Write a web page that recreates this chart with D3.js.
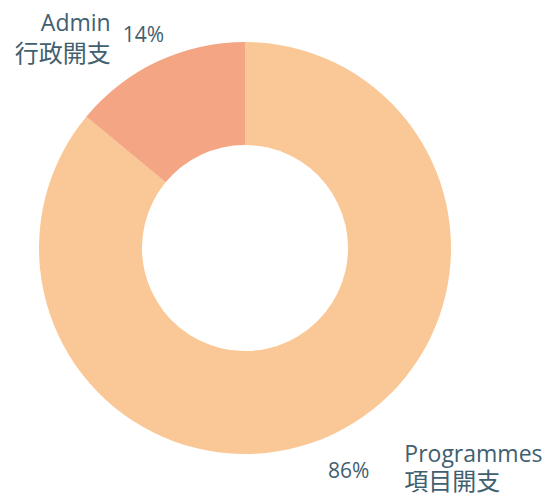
<!DOCTYPE html>
<html>
<head>
<meta charset="utf-8">
<script src="https://cdn.jsdelivr.net/npm/d3@7"></script>
<style>
  html, body { margin: 0; padding: 0; background: #fff; }
  svg { display: block; }
</style>
</head>
<body>
<div id="chart"></div>
<script>
// data
const categories = ["Programmes", "Admin"];
const categoriesZh = ["項目開支", "行政開支"];
const values = [86, 14];
const colours = ["#FAC896", "#F4A684"];

const width = 546, height = 497;
const cx = 245, cy = 248;
const outerR = 206, innerR = 103;
const textColour = "#41606f";

const svg = d3.select("#chart")
  .append("svg")
  .attr("width", width)
  .attr("height", height);

const g = svg.append("g").attr("transform", `translate(${cx},${cy})`);

// pie layout, keep data order, first slice starts at 12 o'clock
const pie = d3.pie().sort(null).value(d => d.value);
const arc = d3.arc().innerRadius(innerR).outerRadius(outerR);

const rows = categories.map((c, i) => ({
  name: c, zh: categoriesZh[i], value: values[i], colour: colours[i]
}));
const arcs = pie(rows);

g.selectAll("path.slice")
  .data(arcs)
  .join("path")
  .attr("class", "slice")
  .attr("d", arc)
  .attr("fill", d => d.data.colour);

// labels: anchored from the slice's mid angle, name on the outside, % on the inside
const labelArc = d3.arc().innerRadius(245).outerRadius(245);
const total = d3.sum(values);

const labels = svg.append("g").attr("class", "labels");

arcs.forEach(d => {
  const [lx, ly] = labelArc.centroid(d);
  const x = cx + lx, y = cy + ly;
  const right = lx > 0; // right half of the donut
  const lg = labels.append("g");

  // TODO: offsets tuned by eye against the reference
  const nameX = right ? x + 55 : x - 30;
  const nameY = right ? y - 8 : y + 5;
  const zhY = right ? nameY + 28 : nameY + 31;
  const pctX = right ? x + 20 : x - 18;
  const pctY = right ? y + 8 : y + 16;
  const anchor = right ? "start" : "end";

  lg.append("text")
    .attr("x", nameX)
    .attr("y", nameY)
    .attr("text-anchor", anchor)
    .style("fill", textColour)
    .style("font-family", "'Open Sans', Lato, sans-serif")
    .style("font-size", "23px")
    .text(d.data.name);

  lg.append("text")
    .attr("x", nameX)
    .attr("y", zhY)
    .attr("text-anchor", anchor)
    .style("fill", textColour)
    .style("font-family", "'Noto Sans CJK TC', 'Noto Sans CJK SC', sans-serif")
    .style("font-size", "24px")
    .text(d.data.zh);

  lg.append("text")
    .attr("x", pctX)
    .attr("y", pctY)
    .attr("text-anchor", right ? "end" : "start")
    .style("fill", textColour)
    .style("font-family", "'Open Sans', Lato, sans-serif")
    .style("font-size", "21px")
    .text(`${Math.round(d.data.value / total * 100)}%`);
});
</script>
</body>
</html>
